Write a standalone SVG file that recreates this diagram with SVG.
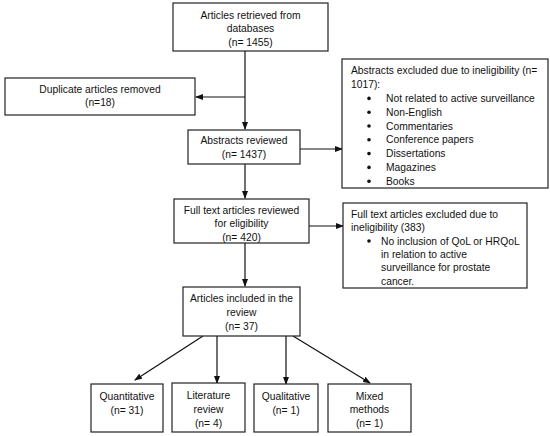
<svg xmlns="http://www.w3.org/2000/svg" width="550" height="436" viewBox="0 0 550 436">
<defs>
<style>
.box{fill:#fff;stroke:#222;stroke-width:1.2}
.t{font-family:"Liberation Sans",Arial,sans-serif;font-size:10.3px;fill:#111}
.c{text-anchor:middle}
.ln{fill:none;stroke:#111;stroke-width:1.2}
.b{fill:#111}
</style>
<marker id="ah" markerWidth="8" markerHeight="6" refX="7" refY="3" orient="auto" markerUnits="userSpaceOnUse">
<path d="M0,0 L8,3 L0,6 Z" fill="#111"/>
</marker>
</defs>
<rect width="550" height="436" fill="#fff"/>
<g id="connectors">
<path class="ln" d="M245,51 V129" marker-end="url(#ah)"/>
<path class="ln" d="M245,97 H196" marker-end="url(#ah)"/>
<path class="ln" d="M300,149 H342" marker-end="url(#ah)"/>
<path class="ln" d="M245,164 V198" marker-end="url(#ah)"/>
<path class="ln" d="M309,226 H343" marker-end="url(#ah)"/>
<path class="ln" d="M245,243 V286" marker-end="url(#ah)"/>
<path class="ln" d="M203,336 L135,380" marker-end="url(#ah)"/>
<path class="ln" d="M217,336 V383" marker-end="url(#ah)"/>
<path class="ln" d="M286,336 V384" marker-end="url(#ah)"/>
<path class="ln" d="M293,336 L370,383" marker-end="url(#ah)"/>
</g>
<g id="retrieved">
<rect class="box" x="173" y="3" width="155" height="48"/>
<text class="t c" x="250.5" y="18.5">Articles retrieved from</text>
<text class="t c" x="250.5" y="32">databases</text>
<text class="t c" x="250.5" y="45.5">(n= 1455)</text>
</g>
<g id="duplicates">
<rect class="box" x="5" y="78" width="190" height="37"/>
<text class="t c" x="100" y="93">Duplicate articles removed</text>
<text class="t c" x="100" y="106">(n=18)</text>
</g>
<g id="abstracts">
<rect class="box" x="188" y="130" width="112" height="34"/>
<text class="t c" x="244" y="143.5">Abstracts reviewed</text>
<text class="t c" x="244" y="157.5">(n= 1437)</text>
</g>
<g id="abstracts-excluded">
<rect class="box" x="342" y="59" width="206" height="129"/>
<text class="t" x="351" y="74.3">Abstracts excluded due to ineligibility (n=</text>
<text class="t" x="351" y="88.1">1017):</text>
<circle class="b" cx="369" cy="98.4" r="1.8"/>
<text class="t" x="386" y="101.9">Not related to active surveillance</text>
<circle class="b" cx="369" cy="112.2" r="1.8"/>
<text class="t" x="386" y="115.7">Non-English</text>
<circle class="b" cx="369" cy="126" r="1.8"/>
<text class="t" x="386" y="129.5">Commentaries</text>
<circle class="b" cx="369" cy="139.8" r="1.8"/>
<text class="t" x="386" y="143.3">Conference papers</text>
<circle class="b" cx="369" cy="153.6" r="1.8"/>
<text class="t" x="386" y="157.1">Dissertations</text>
<circle class="b" cx="369" cy="167.4" r="1.8"/>
<text class="t" x="386" y="170.9">Magazines</text>
<circle class="b" cx="369" cy="181.2" r="1.8"/>
<text class="t" x="386" y="184.7">Books</text>
</g>
<g id="fulltext">
<rect class="box" x="174" y="199" width="135" height="44"/>
<text class="t c" x="241.5" y="213.5">Full text articles reviewed</text>
<text class="t c" x="241.5" y="227">for eligibility</text>
<text class="t c" x="241.5" y="240.5">(n= 420)</text>
</g>
<g id="fulltext-excluded">
<rect class="box" x="343" y="203" width="184" height="85"/>
<text class="t" x="351" y="217.5">Full text articles excluded due to</text>
<text class="t" x="351" y="231">ineligibility (383)</text>
<circle class="b" cx="369" cy="241" r="1.8"/>
<text class="t" x="381" y="244.5">No inclusion of QoL or HRQoL</text>
<text class="t" x="381" y="258">in relation to active</text>
<text class="t" x="381" y="271">surveillance for prostate</text>
<text class="t" x="381" y="284.5">cancer.</text>
</g>
<g id="included">
<rect class="box" x="183" y="287" width="117" height="49"/>
<text class="t c" x="241.5" y="302">Articles included in the</text>
<text class="t c" x="241.5" y="316">review</text>
<text class="t c" x="241.5" y="330">(n= 37)</text>
</g>
<g id="quantitative">
<rect class="box" x="91" y="384" width="72" height="48"/>
<text class="t c" x="127" y="399.5">Quantitative</text>
<text class="t c" x="127" y="413.5">(n= 31)</text>
</g>
<g id="literature">
<rect class="box" x="172" y="383" width="73" height="49"/>
<text class="t c" x="208.5" y="398.5">Literature</text>
<text class="t c" x="208.5" y="412.5">review</text>
<text class="t c" x="208.5" y="426.5">(n= 4)</text>
</g>
<g id="qualitative">
<rect class="box" x="254" y="384" width="64" height="48"/>
<text class="t c" x="286" y="400">Qualitative</text>
<text class="t c" x="286" y="413.5">(n= 1)</text>
</g>
<g id="mixed">
<rect class="box" x="328" y="384" width="83" height="48"/>
<text class="t c" x="369.5" y="399.5">Mixed</text>
<text class="t c" x="369.5" y="413">methods</text>
<text class="t c" x="369.5" y="426.5">(n= 1)</text>
</g>
</svg>
